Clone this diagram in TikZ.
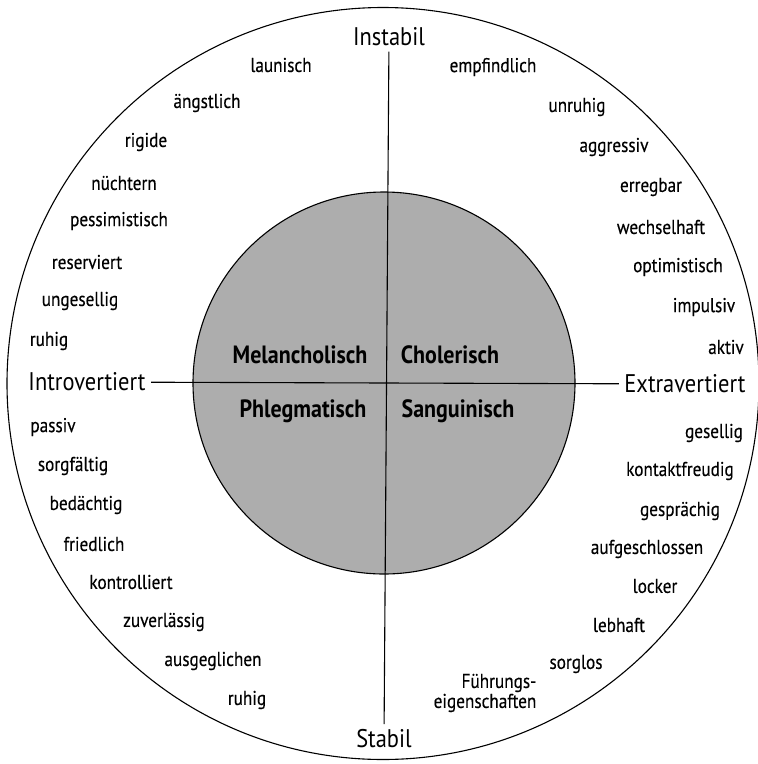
\documentclass[tikz,border=0pt]{standalone}
\usepackage{fontspec}
\setmainfont{PT Sans}[FakeStretch=0.88]
\newfontfamily\wordfont{PT Sans}[FakeStretch=0.86, FakeBold=0.3]
\usetikzlibrary{positioning}

\tikzset{
  word/.style={font=\wordfont\fontsize{20}{20}\selectfont, inner sep=1pt},
  axislabel/.style={font=\fontsize{25.5}{26}\selectfont, inner sep=5pt},
  temper/.style={font=\bfseries\fontsize{25}{26}\selectfont, inner sep=1pt}
}

\begin{document}
\begin{tikzpicture}[x=1pt, y=-1pt, line width=1.1pt]
 \useasboundingbox (0,0) rectangle (758,764);
 %\draw[step=50, gray, very thin] (0,0) grid (758,764);
 \filldraw[fill=black!32, draw=black] (384,383) circle (191);
 \draw (383,383.5) circle (376);

 \node[axislabel] (instabil) at (389,37) {Instabil};
 \node[axislabel] (stabil) at (384,739) {Stabil};
 \node[axislabel] (intro) at (87,382) {Introvertiert};
 \node[axislabel] (extra) at (685,384) {Extravertiert};
 \draw (instabil) -- (stabil);
 \draw (intro) -- (extra);

 \node[temper] (melan) at (300,355) {Melancholisch};
 \node[temper] (chol) at (450,355) {Cholerisch};
 \node[temper] (phleg) at (303,411) {Phlegmatisch};
 \node[temper] (sang) at (458,411) {Sanguinisch};

 % introvertiert, instabil
 \foreach \x/\y/\w [count=\i] in {281/65/launisch, 207/103/ängstlich, 146/142/rigide,
   124/183/nüchtern, 119/221/pessimistisch, 87/262/reserviert, 80/301/ungesellig, 49/341/ruhig}
   \node[word] (ii\i) at (\x,\y) {\w};
 % extravertiert, instabil
 \foreach \x/\y/\w [count=\i] in {493/67/empfindlich, 577/107/unruhig, 614/147/aggressiv,
   651/187/erregbar, 661/227/wechselhaft, 678/267/optimistisch, 704/307/impulsiv, 726/347/aktiv}
   \node[word] (ei\i) at (\x,\y) {\w};
 % introvertiert, stabil
 \foreach \x/\y/\w [count=\i] in {53/427/passiv, 73/466/sorgfältig, 86/505/bedächtig,
   94/544/friedlich, 131/582/kontrolliert, 164/622/zuverlässig, 213/661/ausgeglichen, 247/700/ruhig}
   \node[word] (is\i) at (\x,\y) {\w};
 % extravertiert, stabil
 \foreach \x/\y/\w [count=\i] in {714/433/gesellig, 680/471/kontaktfreudig, 680/511/gesprächig,
   647/549/aufgeschlossen, 655/586/locker, 619/625/lebhaft, 576/664/sorglos}
   \node[word] (es\i) at (\x,\y) {\w};
 \node[word, align=right] (es8) at (485,693) {Führungs-\\eigenschaften};
\end{tikzpicture}
\end{document}
